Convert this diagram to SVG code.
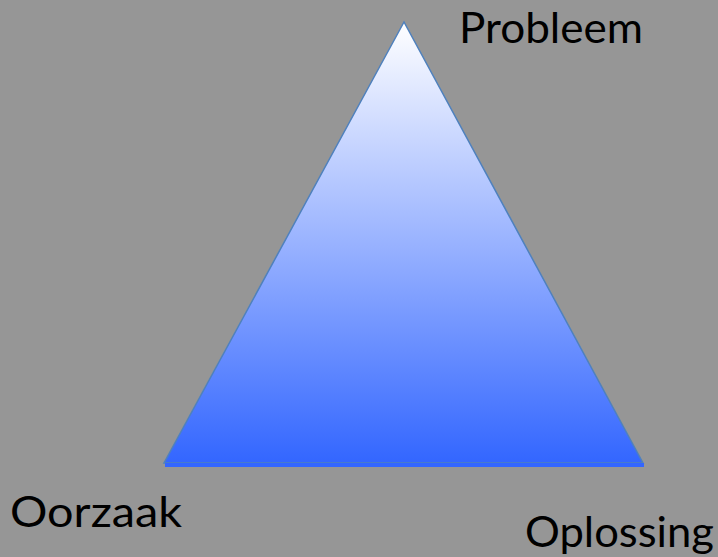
<svg xmlns="http://www.w3.org/2000/svg" width="718" height="557" viewBox="0 0 718 557">
<defs>
<linearGradient id="g" x1="0" y1="0" x2="0" y2="1">
<stop offset="0" stop-color="#ffffff"/>
<stop offset="1" stop-color="#3366ff"/>
</linearGradient>
<style>
text{font-family:"Lato","Open Sans",sans-serif;font-size:42px;fill:#000}
</style>
</defs>
<rect width="718" height="557" fill="#969696"/>
<g id="triangle">
<polygon points="404,22 164,463 643,463" fill="url(#g)" stroke="#4f81bd" stroke-width="1.5"/>
<rect x="165" y="463" width="479" height="4" fill="#3366ff"/>
</g>
<g id="labels">
<text x="459" y="43" textLength="184" lengthAdjust="spacingAndGlyphs">Probleem</text>
<text x="10" y="527" textLength="172" lengthAdjust="spacingAndGlyphs">Oorzaak</text>
<text x="525" y="547" textLength="189" lengthAdjust="spacingAndGlyphs">Oplossing</text>
</g>
</svg>
